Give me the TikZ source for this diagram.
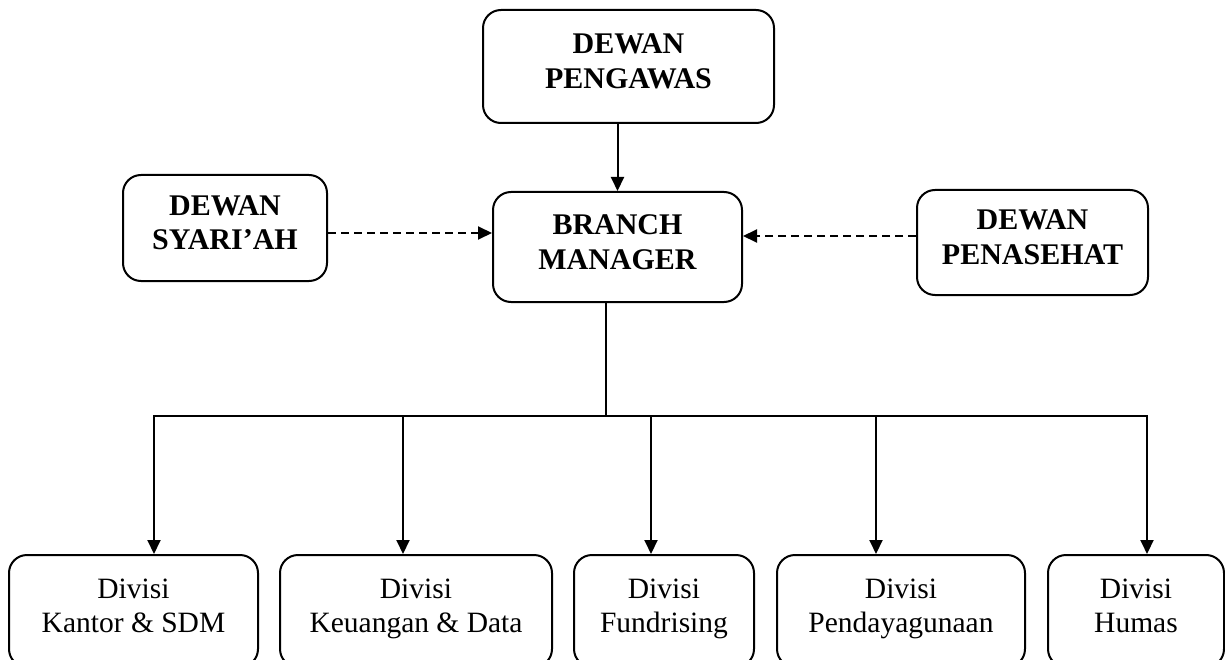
\documentclass[tikz,border=0pt]{standalone}
\usepackage{fontspec}
\setmainfont{Liberation Serif}
\usetikzlibrary{arrows,arrows.meta,positioning,shapes,calc}

\tikzset{
  unit/.style = {draw, rounded corners = 18pt, line width = 2pt, align = center, inner sep = 0pt, execute at end node = \strut},
  dewan/.style = {unit, font = \fontsize{30}{34.5}\selectfont\bfseries},
  divisi/.style = {unit, minimum height = 112pt, font = \fontsize{29.5}{34}\selectfont},
  wire/.style = {line width = 2pt, line cap = rect},
  link/.style = {line width = 2pt, -{Triangle[length = 14pt, width = 13pt]}},
  advice/.style = {link, dash pattern = on 8pt off 5pt},
}

\begin{document}
\begin{tikzpicture}[x = 1pt, y = -1pt]
    \useasboundingbox (0,0) rectangle (1225,660);
    \node[dewan, minimum width = 291pt, minimum height = 113pt] (pengawas) at (628.5,66.5) {DEWAN\\PENGAWAS};
    \node[dewan, minimum width = 204pt, minimum height = 106pt] (syariah) at (225,228) {DEWAN\\SYARI’AH};
    \node[dewan, minimum width = 249pt, minimum height = 110pt] (bm) at (617.5,247) {BRANCH\\MANAGER};
    \node[dewan, minimum width = 231pt, minimum height = 105pt] (penasehat) at (1032.5,242.5) {DEWAN\\PENASEHAT};
        % Divisi
    \node[divisi, minimum width = 249pt] (kantor) at (133.5,611) {Divisi\\Kantor \& SDM};
    \node[divisi, minimum width = 272pt] (keuangan) at (416,611) {Divisi\\Keuangan \& Data};
    \node[divisi, minimum width = 180pt] (fund) at (664,611) {Divisi\\Fundrising};
    \node[divisi, minimum width = 248pt] (daya) at (901,611) {Divisi\\Pendayagunaan};
    \node[divisi, minimum width = 176pt] (humas) at (1136,611) {Divisi\\Humas};
    \coordinate (split) at (606,416);
    \coordinate (t1) at (154,416);
    \coordinate (t2) at (403,416);
    \coordinate (t3) at (651,416);
    \coordinate (t4) at (876,416);
    \coordinate (t5) at (1147,416);
    \draw[link] (bm.north |- pengawas.south) -- (bm.north);
    \draw[advice] ([yshift = -5pt]syariah.east) -- ([yshift = -5pt]syariah.east -| bm.west);
    \draw[advice] ([yshift = 6.5pt]penasehat.west) -- ([yshift = 6.5pt]penasehat.west -| bm.east);
    \draw[wire] (split |- bm.south) -- (split);
    \draw[wire] (t1) -- (t5);
    \draw[link] (t1) -- (t1 |- kantor.north);
    \draw[link] (t2) -- (t2 |- keuangan.north);
    \draw[link] (t3) -- (t3 |- fund.north);
    \draw[link] (t4) -- (t4 |- daya.north);
    \draw[link] (t5) -- (t5 |- humas.north);
\end{tikzpicture}
\end{document}
